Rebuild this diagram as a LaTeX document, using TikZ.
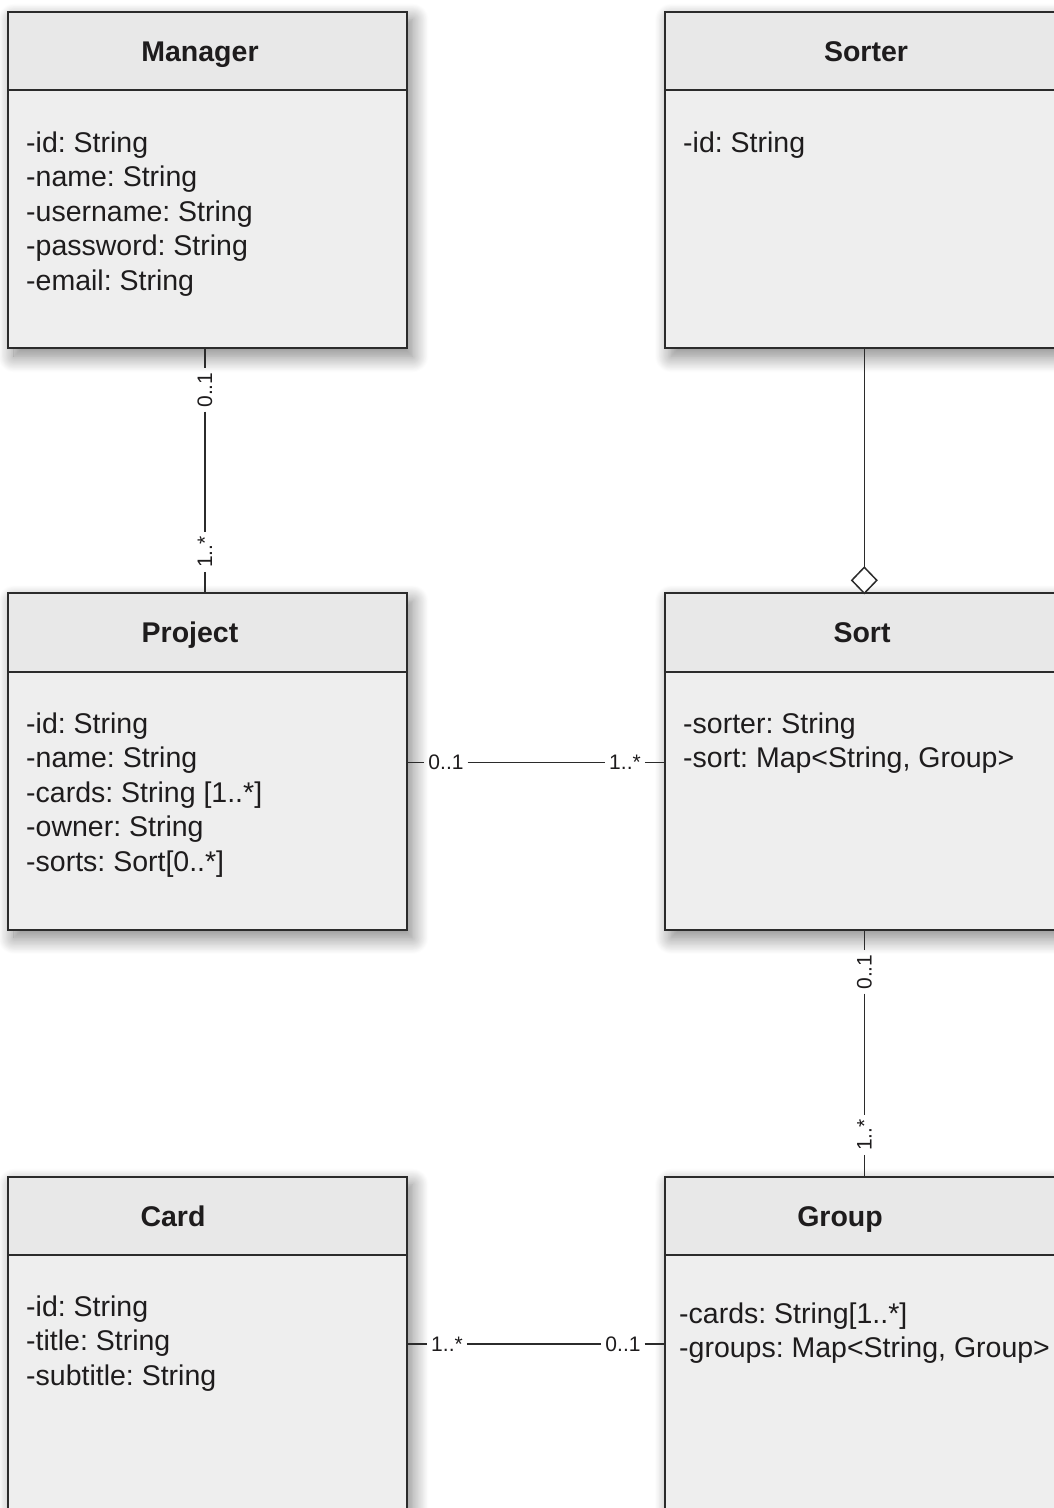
\documentclass[tikz,border=0pt]{standalone}
\usepackage{fontspec}
\setmainfont{Liberation Sans}
\usetikzlibrary{shapes.geometric,shadows.blur}
\frenchspacing

\definecolor{edge}{HTML}{2B2B2B}
\definecolor{hdrgray}{HTML}{E8E8E8}
\definecolor{bodygray}{HTML}{EEEEEE}
\definecolor{ink}{HTML}{1E1C1D}

\tikzset{
  classbody/.style={draw=edge, line width=2pt, fill=bodygray, outer sep=0pt,
    inner sep=0pt, minimum width=398.5pt, minimum height=336.6pt, anchor=north west,
    blur shadow={shadow xshift=6pt, shadow yshift=-8pt, shadow blur radius=16pt,
      shadow blur steps=20, shadow opacity=50}},
  classhead/.style={draw=edge, line width=2pt, fill=hdrgray, outer sep=0pt,
    inner sep=0pt, minimum width=398.5pt, minimum height=78.3pt, anchor=north west},
  classname/.style={text=ink, font=\fontsize{28.5}{34}\selectfont\bfseries,
    anchor=base, inner sep=0pt},
  attr/.style={text=ink, font=\fontsize{28.5}{34}\selectfont, anchor=base west,
    inner sep=0pt},
  mult/.style={text=ink, font=\fontsize{21}{25}\selectfont, inner xsep=4pt,
    inner ysep=3pt},
  assoc/.style={draw=edge, line width=1.5pt},
  aggr/.style={diamond, draw=edge, line width=1.5pt, fill=white,
    minimum width=25pt, minimum height=26pt, inner sep=0pt, outer sep=0pt},
}

\begin{document}
\begin{tikzpicture}[x=1pt, y=-1pt]
\useasboundingbox (0,0) rectangle (1054,1508);

% ---------- Manager ----------
\node[classbody] (manager) at (8,11.7) {};
\node[classhead] (managerH) at (manager.north west) {};
\node[classname] (managerT) at (200,61) {Manager};
\foreach \t [count=\i] in {{-id: String},{-name: String},{-username: String},
    {-password: String},{-email: String}}
  \node[attr] (managerA\i) at (26,{152+34.5*(\i-1)}) {\t};

% ---------- Sorter ----------
\node[classbody] (sorter) at (665,11.7) {};
\node[classhead] (sorterH) at (sorter.north west) {};
\node[classname] (sorterT) at (866,61) {Sorter};
\node[attr] (sorterA1) at (683,152) {-id: String};

% ---------- Project ----------
\node[classbody] (project) at (8,593.3) {};
\node[classhead] (projectH) at (project.north west) {};
\node[classname] (projectT) at (190,642.5) {Project};
\foreach \t [count=\i] in {{-id: String},{-name: String},{-cards: String [1..*]},
    {-owner: String},{-sorts: Sort[0..*]}}
  \node[attr] (projectA\i) at (26,{733+34.5*(\i-1)}) {\t};

% ---------- Sort ----------
\node[classbody] (sort) at (665,593.3) {};
\node[classhead] (sortH) at (sort.north west) {};
\node[classname] (sortT) at (862,642.5) {Sort};
\foreach \t [count=\i] in {{-sorter: String},{-sort: Map<String, Group>}}
  \node[attr] (sortA\i) at (683,{733+34.5*(\i-1)}) {\t};

% ---------- Card ----------
\node[classbody] (card) at (8,1176.7) {};
\node[classhead] (cardH) at (card.north west) {};
\node[classname] (cardT) at (173,1226) {Card};
\foreach \t [count=\i] in {{-id: String},{-title: String},{-subtitle: String}}
  \node[attr] (cardA\i) at (26,{1316+34.5*(\i-1)}) {\t};

% ---------- Group ----------
\node[classbody] (group) at (665,1176.7) {};
\node[classhead] (groupH) at (group.north west) {};
\node[classname] (groupT) at (840,1226) {Group};
\foreach \t [count=\i] in {{-cards: String[1..*]},{-groups: Map<String, Group>}}
  \node[attr] (groupA\i) at (679,{1323+34.5*(\i-1)}) {\t};

% ---------- Manager -- Project ----------
\node[mult, rotate=90] (mp01) at (205,390) {0..1};
\node[mult, rotate=90] (mp1n) at (205,552) {1..*};
\draw[assoc] (manager.south -| mp01) -- (mp01) -- (mp1n) -- (project.north -| mp1n);

% ---------- Project -- Sort ----------
\node[mult] (ps01) at (446,762.5) {0..1};
\node[mult] (ps1n) at (625,762.5) {1..*};
\draw[assoc] (project.east |- ps01) -- (ps01) -- (ps1n) -- (sort.west |- ps1n);

% ---------- Sorter <>-- Sort (aggregation) ----------
\node[aggr] (sortDia) at (864.3,580.3) {};
\draw[assoc] (sorter.south -| sortDia) -- (sortDia.north);

% ---------- Sort -- Group ----------
\node[mult, rotate=90] (sg01) at (864.3,972) {0..1};
\node[mult, rotate=90] (sg1n) at (864.3,1135) {1..*};
\draw[assoc] (sort.south -| sg01) -- (sg01) -- (sg1n) -- (group.north -| sg1n);

% ---------- Card -- Group ----------
\node[mult] (cg1n) at (447,1344) {1..*};
\node[mult] (cg01) at (623,1344) {0..1};
\draw[assoc] (card.east |- cg1n) -- (cg1n) -- (cg01) -- (group.west |- cg01);
\end{tikzpicture}
\end{document}
